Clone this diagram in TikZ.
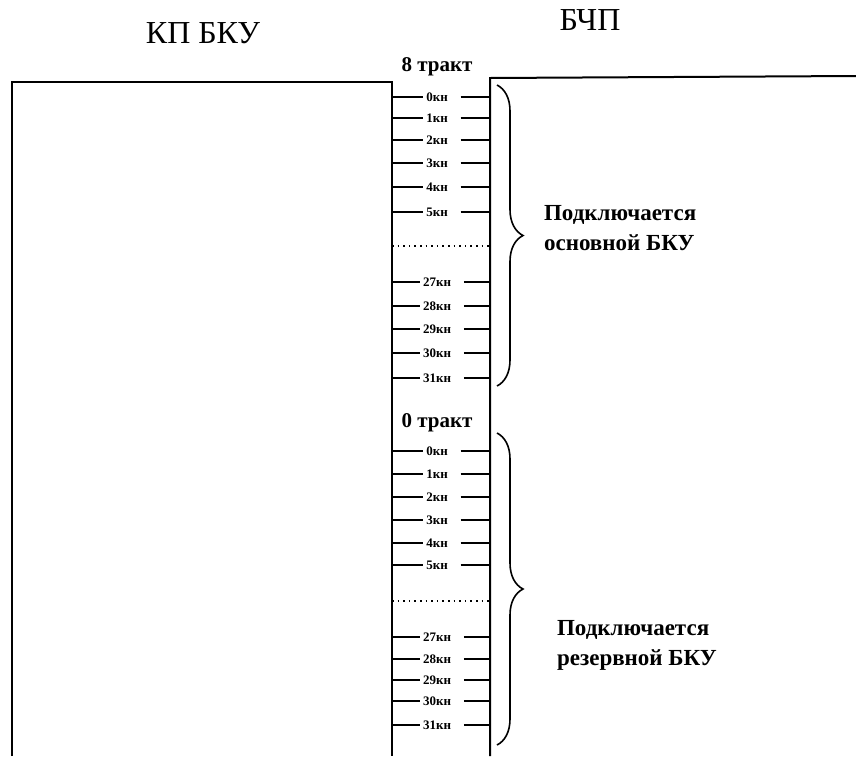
\documentclass[tikz,border=0pt]{standalone}
\usepackage{fontspec}
\setmainfont{Liberation Serif}
\usetikzlibrary{decorations.pathreplacing}

\begin{document}
\begin{tikzpicture}[x=0.5pt, y=-0.5pt,
  frame/.style={black, line width=1pt},
  tick/.style={black, line width=0.75pt},
  chan/.style={font=\fontsize{6.5}{7}\selectfont\bfseries, inner sep=1.2pt},
  tract/.style={font=\fontsize{10.5}{12}\selectfont\bfseries},
  title/.style={font=\fontsize{16}{18}\selectfont},
  note/.style={font=\fontsize{11.5}{15}\selectfont\bfseries, align=left, anchor=west},
  bkbrace/.style={black, line width=0.8pt, decorate, decoration={brace, amplitude=13pt}}]

\useasboundingbox (0,0) rectangle (856,756);

% === Titles ===
\node[title] (kp) at (203,33) {КП БКУ};
\node[title] (bchp) at (590,20) {БЧП};

% === Boxes (open at the bottom) ===
\draw[frame] (12,756) -- (12,82) -- (392,82) -- (392,756);
\draw[frame] (490,756) -- (490,78) -- (856,76);

% === Upper group: 8 tract ===
\node[tract] (tr8) at (437,67) {8 тракт};
\foreach \lbl/\y in {0кн/97, 1кн/118, 2кн/140, 3кн/163, 4кн/187, 5кн/212,
                     27кн/282, 28кн/306, 29кн/329, 30кн/353, 31кн/378} {
  \node[chan] (a\y) at (437,\y) {\lbl};
  \draw[tick] (392,\y) -- (a\y.west);
  \draw[tick] ([xshift=5pt]a\y.east) -- (490,\y);
}
\draw[black, line width=0.8pt, dotted] (392,246) -- (490,246);

\draw[bkbrace] (497,85) -- (497,386);
\node[note] (main) at (537,228) {Подключается\\основной БКУ};

% === Lower group: 0 tract ===
\node[tract] (tr0) at (437,423) {0 тракт};
\foreach \lbl/\y in {0кн/451, 1кн/474, 2кн/497, 3кн/520, 4кн/543, 5кн/565,
                     27кн/637, 28кн/659, 29кн/680, 30кн/701, 31кн/725} {
  \node[chan] (b\y) at (437,\y) {\lbl};
  \draw[tick] (392,\y) -- (b\y.west);
  \draw[tick] ([xshift=5pt]b\y.east) -- (490,\y);
}
\draw[black, line width=0.8pt, dotted] (392,601) -- (490,601);

\draw[bkbrace] (497,433) -- (497,745);
\node[note] (reserve) at (550,645) {Подключается\\резервной БКУ};

\end{tikzpicture}
\end{document}
